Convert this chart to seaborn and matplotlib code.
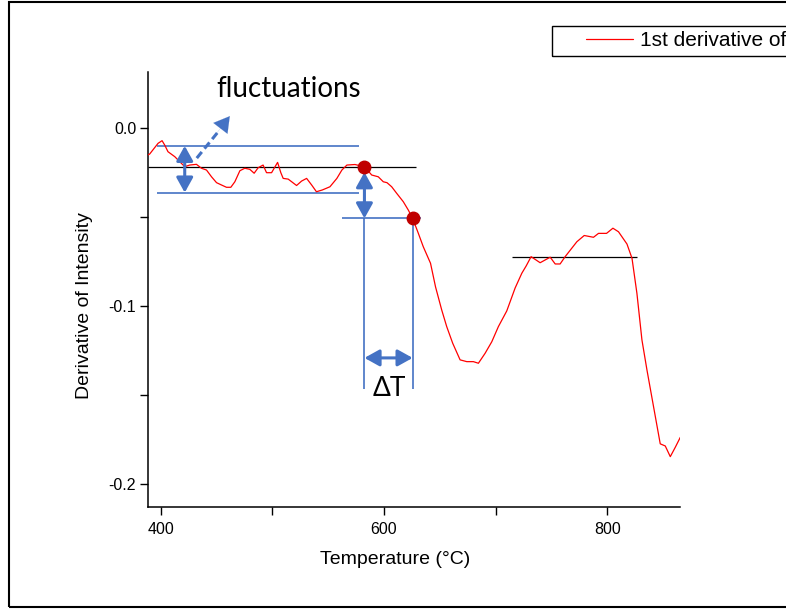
import matplotlib
matplotlib.use("Agg")
import matplotlib.pyplot as plt
from matplotlib.patches import Rectangle
import seaborn as sns
import pandas as pd

# First-derivative curve (temperature in °C, derivative of intensity)
temperature = [388.3, 390.1, 397.6, 401.2, 403.6, 406.5, 412.6, 417.0, 421.5, 426.0,
               432.0, 436.5, 441.0, 445.5, 450.0, 454.4, 458.9, 462.8, 466.4, 470.9,
               475.3, 479.8, 483.7, 487.3, 491.7, 494.8, 499.3, 504.7, 507.6, 509.7,
               514.2, 521.7, 526.2, 530.7, 535.2, 539.5, 544.8, 551.6, 557.8, 562.3,
               566.8, 574.0, 582.5, 589.0, 594.9, 599.4, 602.7, 606.9, 611.4, 617.3,
               621.8, 625.7, 630.8, 635.2, 641.7, 646.2, 651.7, 656.2, 661.6, 668.2,
               674.2, 680.1, 684.6, 690.6, 696.6, 702.5, 710.0, 717.5, 723.5, 727.4,
               731.8, 739.9, 748.9, 753.4, 757.8, 762.3, 772.8, 779.4, 787.7, 792.2,
               799.4, 805.1, 810.1, 817.7, 822.2, 826.6, 831.1, 835.6, 841.5, 847.5,
               852.0, 856.5, 861.0, 865.5]
derivative = [-0.0152, -0.0146, -0.0086, -0.0071, -0.0096, -0.0133, -0.0161, -0.0189, -0.0217, -0.0208,
              -0.0204, -0.0226, -0.0236, -0.0274, -0.0307, -0.0320, -0.0333, -0.0333, -0.0302, -0.0240,
              -0.0226, -0.0232, -0.0254, -0.0223, -0.0208, -0.0251, -0.0251, -0.0193, -0.0251, -0.0283,
              -0.0287, -0.0323, -0.0298, -0.0283, -0.0320, -0.0358, -0.0348, -0.0330, -0.0283, -0.0236,
              -0.0208, -0.0205, -0.0217, -0.0264, -0.0274, -0.0302, -0.0307, -0.0330, -0.0367, -0.0414,
              -0.0461, -0.0508, -0.0592, -0.0667, -0.0760, -0.0893, -0.1022, -0.1116, -0.1210, -0.1303,
              -0.1313, -0.1313, -0.1322, -0.1266, -0.1201, -0.1116, -0.1028, -0.0899, -0.0816, -0.0775,
              -0.0723, -0.0757, -0.0726, -0.0764, -0.0764, -0.0723, -0.0639, -0.0604, -0.0614, -0.0592,
              -0.0592, -0.0563, -0.0583, -0.0652, -0.0732, -0.0929, -0.1191, -0.1360, -0.1566, -0.1775,
              -0.1787, -0.1847, -0.1794, -0.1738]

series_label = "1st derivative of intensity"
x_ticks = [400, 600, 800]
x_minor = [500, 700]
y_ticks = [-0.2, -0.1, 0.0]
y_minor = [-0.15, -0.05]

# Onset markers on the curve (indices into the arrays above)
onset_idx = 42
shifted_idx = 51
plateau_idx = 70

# Noise band of the baseline
band_upper = -0.0100
band_lower = -0.0363

sns.set_style("ticks")
plt.rcParams["font.family"] = ["Liberation Sans", "DejaVu Sans"]
plt.rcParams["text.color"] = "black"
plt.rcParams["axes.labelcolor"] = "black"
note_font = ["Lato", "DejaVu Sans"]

blue = "#4472C4"
dot_red = "#C00000"

df = pd.DataFrame({"Temperature": temperature, "Derivative": derivative})

fig = plt.figure(figsize=(7.86, 6.11), dpi=100)
ax = fig.add_axes([148 / 786, 1 - 507 / 611, 532 / 786, 435 / 611])

sns.lineplot(data=df, x="Temperature", y="Derivative", color="red", lw=0.9,
             ax=ax, label=series_label, zorder=3)

ax.set_xlim(388.6, 865.2)
ax.set_ylim(-0.213, 0.0315)
ax.set_xticks(x_ticks)
ax.set_xticks(x_minor, minor=True)
ax.set_yticks(y_ticks)
ax.set_yticks(y_minor, minor=True)
ax.set_yticklabels([f"{v:.1f}" for v in y_ticks])
ax.tick_params(which="both", direction="out", length=5.5, width=1.0, colors="black",
               labelsize=11.5)
ax.tick_params(axis="x", pad=5)
ax.tick_params(axis="y", pad=3)
for side in ("top", "right"):
    ax.spines[side].set_visible(False)
for side in ("left", "bottom"):
    ax.spines[side].set_linewidth(1.1)
    ax.spines[side].set_color("black")

ax.set_xlabel("Temperature (°C)", fontsize=14)
ax.set_ylabel("Derivative of Intensity", fontsize=14)
ax.xaxis.set_label_coords(0.464, -0.102)
ax.yaxis.set_label_coords(-0.103, 0.464)

t_on, d_on = temperature[onset_idx], derivative[onset_idx]
t_sh, d_sh = temperature[shifted_idx], derivative[shifted_idx]
t_pl, d_pl = temperature[plateau_idx], derivative[plateau_idx]

# Reference lines
ax.hlines(d_on, 388.6, 628.7, color="black", lw=0.9, zorder=2)
ax.hlines(d_pl, 715.0, 826.6, color="black", lw=0.9, zorder=2)
ax.hlines([band_upper, band_lower], 396.4, 577.6, color=blue, lw=1.2, zorder=2)
ax.hlines(d_sh, 562.6, 633.2, color=blue, lw=1.2, zorder=2)
ax.vlines([t_on, t_sh], -0.1466, d_sh, color=blue, lw=1.2, zorder=2)

# Double-headed arrows
arrow_style = "<|-|>,head_length=0.45,head_width=0.25"
ax.annotate("", xy=(421.5, band_lower), xytext=(421.5, band_upper),
            arrowprops=dict(arrowstyle=arrow_style, color=blue, lw=2.2,
                            mutation_scale=20, shrinkA=0, shrinkB=0), zorder=4)
ax.annotate("", xy=(t_on, d_sh), xytext=(t_on, d_on),
            arrowprops=dict(arrowstyle=arrow_style, color=blue, lw=2.2,
                            mutation_scale=20, shrinkA=4, shrinkB=0), zorder=4)
ax.annotate("", xy=(t_sh, -0.1292), xytext=(t_on, -0.1292),
            arrowprops=dict(arrowstyle=arrow_style, color=blue, lw=2.2,
                            mutation_scale=20, shrinkA=0, shrinkB=0), zorder=4)

# Dashed pointer towards the "fluctuations" note
ax.plot([432.3, 453.0], [-0.0169, -0.0009], color=blue, lw=2.2,
        ls=(0, (2.6, 1.4)), zorder=4)
ax.annotate("", xy=(461.9, 0.0067), xytext=(450.0, -0.0030),
            arrowprops=dict(arrowstyle="-|>,head_length=0.55,head_width=0.32",
                            color=blue, lw=0.1, mutation_scale=20,
                            shrinkA=0, shrinkB=0), zorder=4)

# Onset points
ax.plot([t_on, t_sh], [d_on, d_sh], "o", color=dot_red, ms=9, zorder=5)

ax.text(514.8, 0.0176, "fluctuations", ha="center", va="baseline",
        fontsize=20, family=note_font, color="black")
ax.text(604.5, -0.1506, "ΔT", ha="center", va="baseline",
        fontsize=19, family=note_font, color="black")

# Legend with its own frame at the top right of the figure
ax.get_legend().remove()
handles, labels = ax.get_legend_handles_labels()
fig.legend(handles, labels, loc="center left", bbox_to_anchor=(586 / 786, 1 - 41 / 611),
           frameon=False, borderpad=0, borderaxespad=0, handlelength=2.26,
           handletextpad=0.34, fontsize=15, labelcolor="black")
fig.add_artist(Rectangle((552 / 786, 1 - 56 / 611), 0.6, 30 / 611,
                         transform=fig.transFigure, fill=False, ec="black", lw=1.0))

# Figure border
fig.add_artist(Rectangle((8.5 / 786, 1 - 607 / 611), 1.2, 605 / 611,
                         transform=fig.transFigure, fill=False, ec="black", lw=1.5))

fig.savefig("out.png", dpi=100)
